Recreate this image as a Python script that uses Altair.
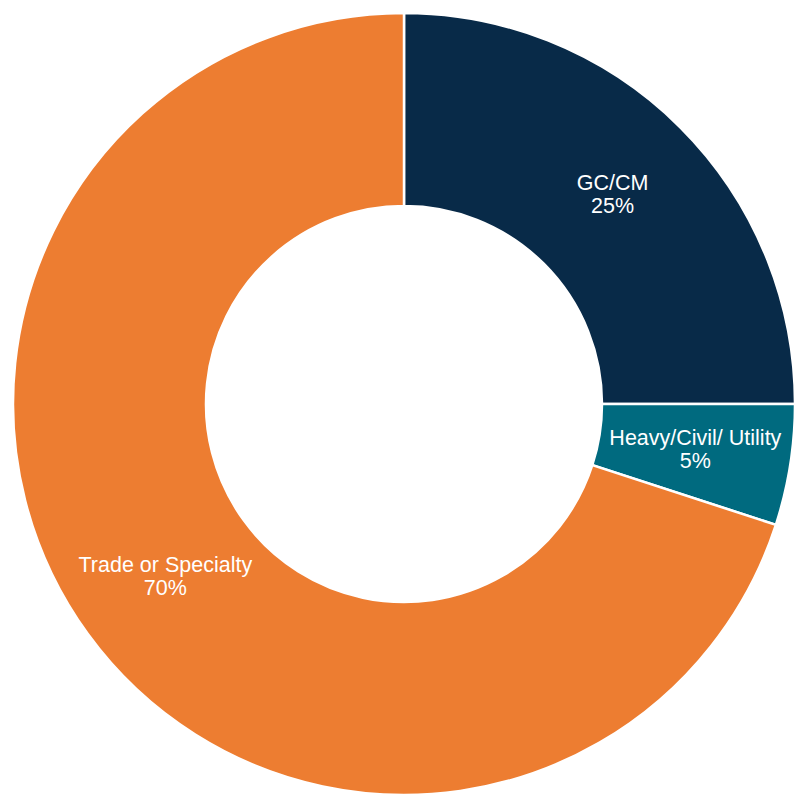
import altair as alt
import pandas as pd

categories = ["GC/CM", "Heavy/Civil/ Utility", "Trade or Specialty"]
values = [25, 5, 70]
pct_labels = ["25%", "5%", "70%"]
colors = ["#082A48", "#006A7F", "#ED7D31"]

df = pd.DataFrame({
    "category": categories,
    "value": values,
    "order": list(range(len(categories))),
    "pct": pct_labels,
})

CX, CY = 396, 396
R_OUT, R_IN = 391, 198
R_LABEL = 295

base = alt.Chart(df).encode(
    theta=alt.Theta("value:Q", stack=True),
    order=alt.Order("order:Q"),
)

arcs = base.mark_arc(
    outerRadius=R_OUT, innerRadius=R_IN, stroke="white", strokeWidth=2.5
).encode(
    color=alt.Color("category:N",
                    scale=alt.Scale(domain=categories, range=colors),
                    legend=None),
    x=alt.value(CX), y=alt.value(CY),
)

text_style = dict(font="Liberation Sans", fontSize=21.5, color="white",
                  align="center", baseline="middle", radius=R_LABEL)

names = base.mark_text(dy=-11.5, **text_style).encode(
    text="category:N", x=alt.value(CX), y=alt.value(CY),
)
pcts = base.mark_text(dy=11.5, **text_style).encode(
    text="pct:N", x=alt.value(CX), y=alt.value(CY),
)

chart = alt.layer(arcs, names, pcts).properties(
    width=788, height=792,
    autosize=alt.AutoSizeParams(type="none"),
    padding=0,
).configure_view(stroke=None)

chart.save("out.html", embed_options={"renderer": "svg", "actions": False})
